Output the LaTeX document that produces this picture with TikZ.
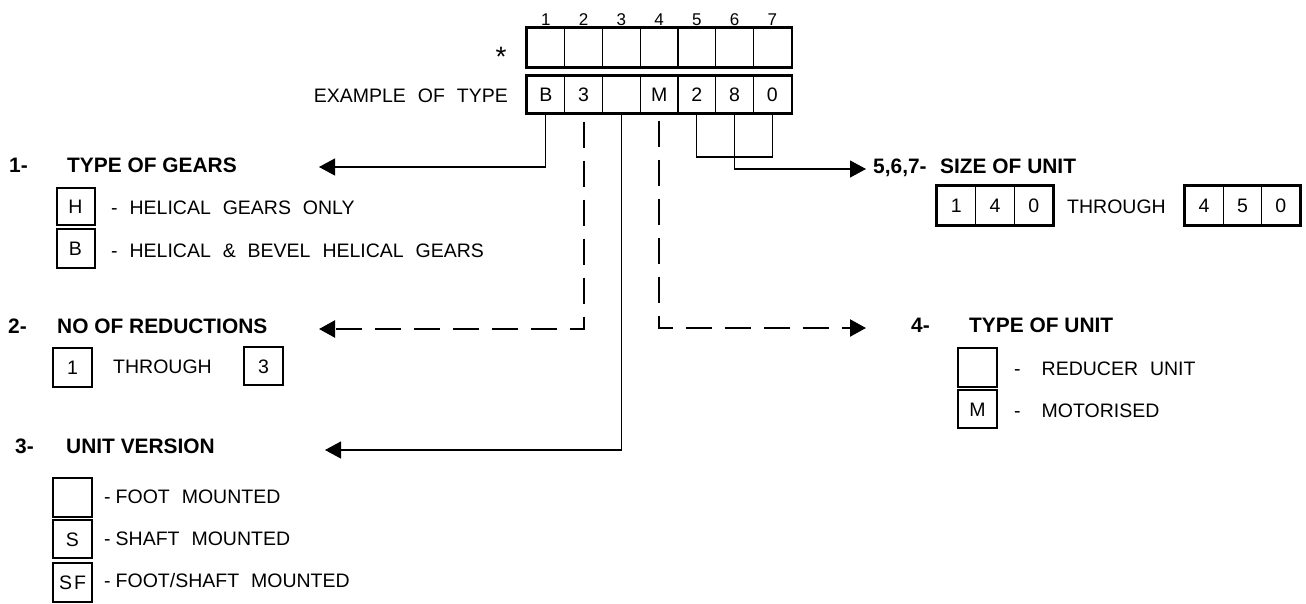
\documentclass[tikz,border=0pt]{standalone}
\usepackage{fontspec}
\setmainfont{Liberation Sans}
\newfontfamily\wfont{Liberation Sans}[WordSpace=2.2]
\usetikzlibrary{arrows.meta}
\begin{document}
\begin{tikzpicture}[x=1pt,y=-1pt,
  txt/.style={inner sep=0pt, anchor=base west, font=\wfont\fontsize{19.5}{22}\selectfont},
  hd/.style={inner sep=0pt, anchor=base west, font=\bfseries\fontsize{20.9}{24}\selectfont},
  numlbl/.style={inner sep=0pt, anchor=base, font=\fontsize{17}{20}\selectfont},
  cell/.style={draw, line width=1.3pt, minimum width=37.75pt, minimum height=38pt, inner sep=0pt,
    text height=14pt, text depth=0pt, font=\fontsize{19.5}{22}\selectfont},
  lbox/.style={draw, line width=2pt, minimum width=38pt, minimum height=38pt, inner sep=0pt,
    text height=14pt, text depth=0pt, font=\fontsize{19.5}{22}\selectfont},
  conn/.style={line width=1.2pt, -{Triangle[length=16pt,width=17pt]}},
  dconn/.style={line width=2.2pt, dash pattern=on 26pt off 13pt, -{Triangle[length=16pt,width=17pt]}},
]
\useasboundingbox (0,0) rectangle (1306,603);

% code table
\foreach \i/\t in {1/B,2/3,3/,4/M,5/2,6/8,7/0} {
  \node[cell, minimum height=39pt] (c\i) at ({527+37.75*(\i-0.5)},47.5) {};
  \node[cell, minimum height=37pt] (e\i) at ({527+37.75*(\i-0.5)},94.5) {\t};
  \node[numlbl] (n\i) at ({527+37.75*(\i-0.5)},25) {\i};
}
\draw[line width=2.4pt] (c1.north west) rectangle (c7.south east);
\draw[line width=2.4pt] (e1.north west) rectangle (e7.south east);
\node[inner sep=0pt, anchor=base, font=\fontsize{28}{30}\selectfont] (star) at (501,66) {*};
\node[txt, anchor=base east] (ex) at (508,102) {EXAMPLE OF TYPE};

% section 1
\node[hd] (s1n) at (9,172) {1-};
\node[hd] (s1h) at (67,172) {TYPE OF GEARS};
\node[lbox, minimum height=37pt] (bH) at (75.5,206.5) {H};
\node[lbox, minimum height=39pt] (bB) at (75.5,248.5) {B};
\node[txt] (tH) at (111,214) {- HELICAL GEARS ONLY};
\node[txt] (tB) at (111,257) {- HELICAL \& BEVEL HELICAL GEARS};

% section 2
\node[hd] (s2n) at (8,333) {2-};
\node[hd] (s2h) at (57,333) {NO OF REDUCTIONS};
\node[lbox, minimum width=39pt, minimum height=39pt] (b1) at (72.5,367.5) {1};
\node[txt] (th2) at (113,373) {THROUGH};
\node[lbox, minimum width=39pt] (b3) at (263.5,366) {3};

% section 3
\node[hd] (s3n) at (15,453) {3-};
\node[hd] (s3h) at (66,453) {UNIT VERSION};
\node[lbox, minimum width=39pt, minimum height=39pt] (bF) at (72.5,497.5) {};
\node[lbox, minimum width=39pt] (bS) at (72.5,539) {S};
\node[lbox, minimum width=39pt, minimum height=39pt] (bSF) at (72.5,582.5) {S\kern2pt F};
\node[txt] (tF) at (104,503) {-\hspace{5pt}FOOT MOUNTED};
\node[txt] (tS) at (104,545) {-\hspace{5pt}SHAFT MOUNTED};
\node[txt] (tSF) at (104,587) {-\hspace{5pt}FOOT/SHAFT MOUNTED};

% section 5,6,7
\node[hd] (s5n) at (873,173) {5,6,7-};
\node[hd] (s5h) at (940,173) {SIZE OF UNIT};
\foreach \i/\t in {1/1,2/4,3/0} {
  \node[cell, minimum width=38.7pt, minimum height=39pt] (a\i) at ({937+38.7*(\i-0.5)},205.5) {\t};
}
\foreach \i/\t in {1/4,2/5,3/0} {
  \node[cell, minimum width=38.3pt, minimum height=39pt] (z\i) at ({1185+38.3*(\i-0.5)},205.5) {\t};
}
\draw[line width=2.4pt] (a1.north west) rectangle (a3.south east);
\draw[line width=2.4pt] (z1.north west) rectangle (z3.south east);
\node[txt] (th5) at (1067,213) {THROUGH};

% section 4
\node[hd] (s4n) at (911,332) {4-};
\node[hd] (s4h) at (969,332) {TYPE OF UNIT};
\node[lbox, minimum width=39pt, minimum height=39pt] (bR) at (977.5,367.5) {};
\node[lbox, minimum width=39pt] (bM) at (977.5,409) {M};
\node[txt] (tR) at (1014,375) {-\hspace{21pt}REDUCER UNIT};
\node[txt] (tM) at (1014,417) {-\hspace{21pt}MOTORISED};

% connectors
\coordinate (t1) at (319,167);
\coordinate (t2) at (319,329);
\coordinate (t3) at (325,450);
\coordinate (t4) at (866,328);
\coordinate (t6) at (866,169);
\coordinate (b57) at (735,157);
\draw[conn] (e1.south) |- (t1);
\draw[dconn, dash phase=31pt] (e2.south) |- (t2);
\draw[conn] (e3.south) |- (t3);
\draw[dconn, dash phase=32pt] (e4.south) |- (t4);
\draw[line width=1.2pt] (e5.south) |- (b57) -| (e7.south);
\draw[conn] (e6.south) |- (t6);
\end{tikzpicture}
\end{document}
